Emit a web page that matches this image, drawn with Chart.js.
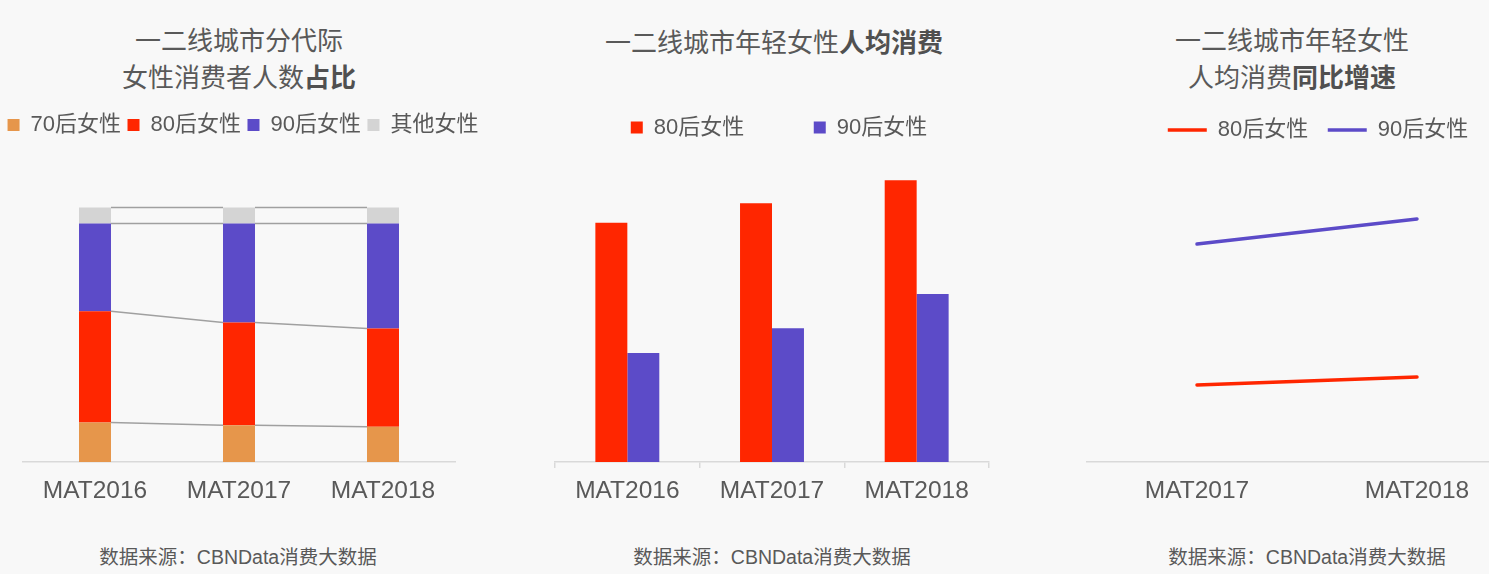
<!DOCTYPE html>
<html>
<head>
<meta charset="utf-8">
<script src="https://cdn.jsdelivr.net/npm/chart.js@4.4.1/dist/chart.umd.min.js"></script>
<style>
  html, body { margin: 0; padding: 0; }
  body { width: 1489px; height: 574px; overflow: hidden; position: relative; background: #f8f8f8;
         font-family: "Liberation Sans", "Noto Sans CJK SC", sans-serif; color: #595959; }
  canvas { position: absolute; }
  .title { position: absolute; font-size: 26px; line-height: 37.5px; text-align: center; white-space: nowrap; }
  .title b { font-weight: bold; color: #505050; }
  .src { position: absolute; font-size: 19.5px; line-height: 22px; text-align: center; white-space: nowrap; top: 546px; }
</style>
</head>
<body>
<div class="title" style="left:0px; width:478px; top:22.75px;">一二线城市分代际<br>女性消费者人数<b>占比</b></div>
<div class="title" style="left:534px; width:480px; top:25.25px;">一二线城市年轻女性<b>人均消费</b></div>
<div class="title" style="left:1052px; width:480px; top:22.75px;">一二线城市年轻女性<br>人均消费<b>同比增速</b></div>

<div class="src" style="left:-2px; width:480px;">数据来源：CBNData消费大数据</div>
<div class="src" style="left:532px; width:480px;">数据来源：CBNData消费大数据</div>
<div class="src" style="left:1067px; width:480px;">数据来源：CBNData消费大数据</div>

<canvas id="c1" width="506" height="430" style="left:-10px; top:100px;"></canvas>
<canvas id="c2" width="478" height="500" style="left:540px; top:30px;"></canvas>
<canvas id="c3" width="476" height="440" style="left:1080px; top:90px;"></canvas>

<script>
// ---------- data ----------
const shareCategories = ['MAT2016', 'MAT2017', 'MAT2018'];
const share70s   = [15.5, 14.4, 13.9];
const share80s   = [43.7, 40.4, 38.6];
const share90s   = [34.5, 38.9, 41.2];
const shareOther = [6.3, 6.3, 6.3];

const spendCategories = ['MAT2016', 'MAT2017', 'MAT2018'];
const spend80s = [2393, 2587, 2817];
const spend90s = [1090, 1337, 1680];

const growthCategories = ['MAT2017', 'MAT2018'];
const growth80s = [7.7, 8.5];
const growth90s = [21.8, 24.3];

const seriesNames = ['70后女性', '80后女性', '90后女性', '其他女性'];

// ---------- styles ----------
const FONT = '"Liberation Sans", "Noto Sans CJK SC", sans-serif';
const TXT = '#595959';
const AXIS = '#d9d9d9';
const C70 = '#e6964b', C80 = '#ff2600', C90 = '#5c4bc8', COTHER = '#d4d4d4';

Chart.defaults.font.family = FONT;
Chart.defaults.color = TXT;

function spacerAxis(pos, w) {
  return {
    position: pos, display: true,
    ticks: { display: false },
    grid: { display: false, drawTicks: false },
    border: { display: false },
    afterFit(s) { s.width = w; }
  };
}

const connectorPlugin = {
  id: 'connectors',
  afterDatasetsDraw(chart) {
    const ctx = chart.ctx;
    ctx.save();
    ctx.strokeStyle = '#a0a0a0';
    ctx.lineWidth = 1.5;
    chart.data.datasets.forEach((ds, di) => {
      const meta = chart.getDatasetMeta(di);
      for (let i = 0; i < meta.data.length - 1; i++) {
        const a = meta.data[i], b = meta.data[i + 1];
        ctx.beginPath();
        ctx.moveTo(a.x + a.width / 2, a.y);
        ctx.lineTo(b.x - b.width / 2, b.y);
        ctx.stroke();
      }
    });
    ctx.restore();
  }
};

// ---------- chart 1: stacked share ----------
new Chart(document.getElementById('c1'), {
  type: 'bar',
  data: {
    labels: shareCategories,
    datasets: [
      { label: seriesNames[0], data: share70s, backgroundColor: C70 },
      { label: seriesNames[1], data: share80s, backgroundColor: C80 },
      { label: seriesNames[2], data: share90s, backgroundColor: C90 },
      { label: seriesNames[3], data: shareOther, backgroundColor: COTHER }
    ]
  },
  options: {
    responsive: false, animation: false,
    layout: { padding: { top: 7.5, bottom: 10 } },
    datasets: { bar: { categoryPercentage: 1, barPercentage: 0.2222, borderWidth: 0 } },
    plugins: {
      legend: {
        position: 'top',
        labels: { boxWidth: 12, boxHeight: 12, padding: 6.5, color: TXT, font: { size: 22 } }
      },
      tooltip: { enabled: false }
    },
    scales: {
      x: {
        stacked: true,
        grid: { display: false, drawTicks: false },
        border: { display: true, color: AXIS, width: 1.5 },
        ticks: { color: TXT, padding: 14.3, font: { size: 24.5 } }
      },
      y: Object.assign(spacerAxis('left', 33), { stacked: true, min: 0, max: 124.17 }),
      yR: spacerAxis('right', 41)
    }
  },
  plugins: [connectorPlugin]
});

// ---------- chart 2: per-capita spending ----------
new Chart(document.getElementById('c2'), {
  type: 'bar',
  data: {
    labels: spendCategories,
    datasets: [
      { label: seriesNames[1], data: spend80s, backgroundColor: C80 },
      { label: seriesNames[2], data: spend90s, backgroundColor: C90 }
    ]
  },
  options: {
    responsive: false, animation: false,
    layout: { padding: { top: 17, bottom: 16 } },
    datasets: { bar: { categoryPercentage: 0.442, barPercentage: 1, borderWidth: 0 } },
    plugins: {
      legend: {
        position: 'top',
        labels: { boxWidth: 12, boxHeight: 12, padding: 69.5, color: TXT, font: { size: 22 } }
      },
      tooltip: { enabled: false }
    },
    scales: {
      x: {
        grid: { display: true, drawOnChartArea: false, drawTicks: true, tickLength: 6, color: AXIS, lineWidth: 1.5, offset: true },
        border: { display: true, color: AXIS, width: 1.5 },
        ticks: { color: TXT, padding: 8.3, font: { size: 24.5 } }
      },
      y: Object.assign(spacerAxis('left', 15), { min: 0, max: 3135 }),
      yR: spacerAxis('right', 29)
    }
  }
});

// ---------- chart 3: YoY growth ----------
new Chart(document.getElementById('c3'), {
  type: 'line',
  data: {
    labels: growthCategories,
    datasets: [
      { label: seriesNames[1], data: growth80s, borderColor: C80, backgroundColor: C80,
        borderWidth: 3.5, pointRadius: 0, borderCapStyle: 'round', tension: 0 },
      { label: seriesNames[2], data: growth90s, borderColor: C90, backgroundColor: C90,
        borderWidth: 3.5, pointRadius: 0, borderCapStyle: 'round', tension: 0 }
    ]
  },
  options: {
    responsive: false, animation: false,
    layout: { padding: { top: 9.5, bottom: 10 } },
    plugins: {
      legend: {
        position: 'top',
        labels: { usePointStyle: true, pointStyle: 'line', pointStyleWidth: 39, padding: 19.5, color: TXT, font: { size: 22 } }
      },
      tooltip: { enabled: false }
    },
    scales: {
      x: {
        offset: true,
        grid: { display: false, drawTicks: false },
        border: { display: true, color: AXIS, width: 1.5 },
        ticks: { color: TXT, padding: 14.3, font: { size: 24.5 } }
      },
      y: Object.assign(spacerAxis('left', 7), { min: 0, max: 31.1 }),
      yR: spacerAxis('right', 29)
    }
  }
});
</script>
</body>
</html>
